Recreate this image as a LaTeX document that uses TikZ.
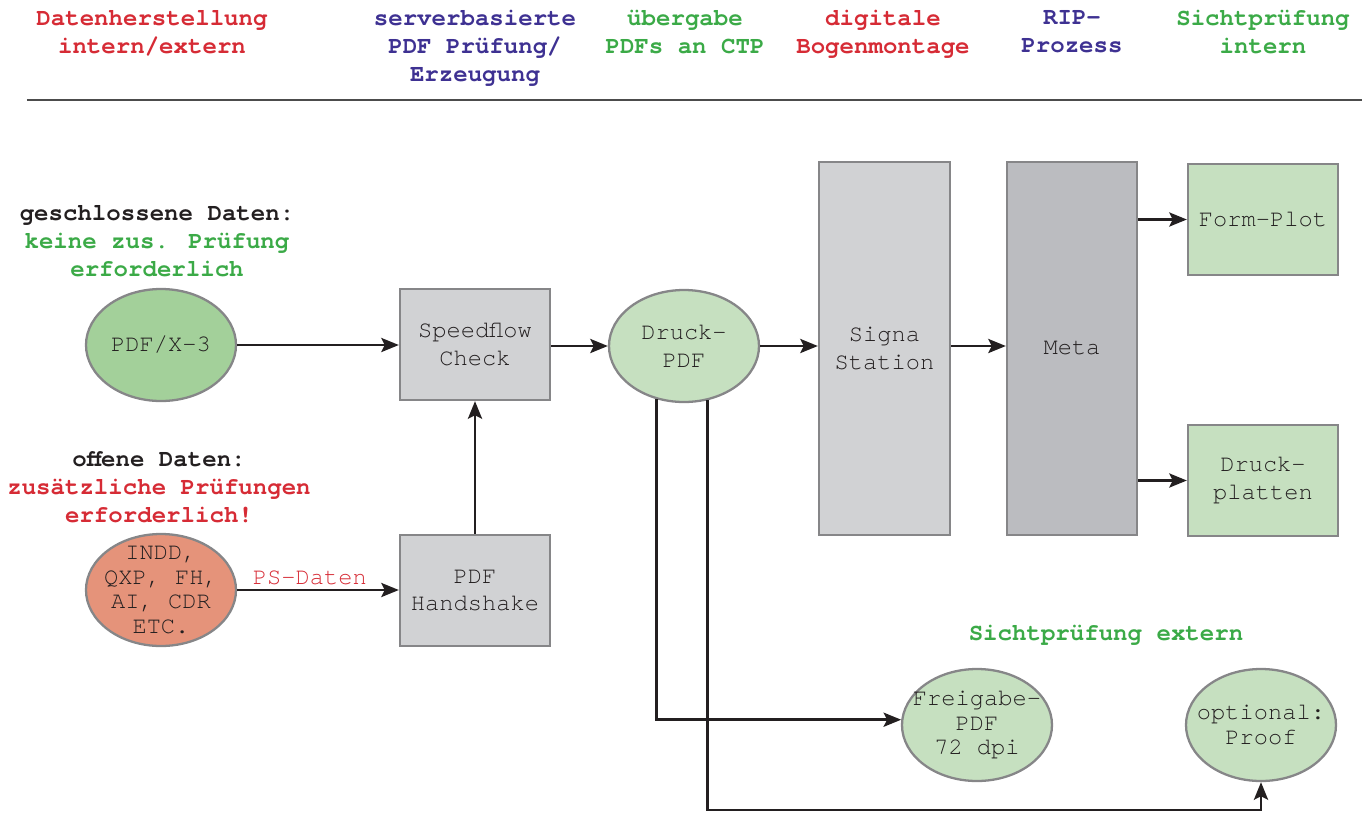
\documentclass[tikz,border=0pt]{standalone}
\usepackage{fontspec}
\setmainfont{TeX Gyre Cursor}
\usetikzlibrary{shapes.geometric,arrows.meta}
\definecolor{rot}{HTML}{D62B35}
\definecolor{lila}{HTML}{3E3192}
\definecolor{gruen}{HTML}{3BAA47}
\definecolor{ink}{HTML}{231F20}
\definecolor{rahmen}{HTML}{868688}
\definecolor{grau}{HTML}{D1D2D4}
\definecolor{dunkelgrau}{HTML}{BBBCC0}
\definecolor{hellgruen}{HTML}{C6E0C0}
\definecolor{pdfgruen}{HTML}{A3D09A}
\definecolor{lachs}{HTML}{E5937A}
\newcommand\knotenfont{\fontsize{13.5}{15.9}\selectfont}
\newcommand\engfont{\fontsize{13.5}{13.9}\selectfont}
\tikzset{
  kopf/.style     = { font=\fontsize{13.7}{15.9}\selectfont\bfseries, align=center, anchor=north, inner sep=0pt, text=ink },
  station/.style  = { draw=rahmen, line width=1.3pt, fill=grau, minimum width=3cm, minimum height=2.22cm, align=center, text=ink, font=\knotenfont },
  datei/.style    = { ellipse, draw=rahmen, line width=1.3pt, fill=hellgruen, minimum width=3cm, minimum height=2.24cm, inner xsep=-0.4cm, inner ysep=-0.4cm, align=center, text=ink, font=\knotenfont },
  eng/.style      = { font=\engfont },
  pfeil/.style    = { -{Stealth[length=10pt,width=8pt,inset=2pt]}, line width=1.6pt, draw=ink },
  ps/.style       = { above, pos=0.45, inner sep=2pt, text=rot, font=\knotenfont },
  trenner/.style  = { line width=1.1pt, draw=black!70 }
}
\begin{document}
\begin{tikzpicture}
  \useasboundingbox (0,0) rectangle (27.24,-16.24);

  % Draw headings
  \node[kopf, text=rot]   (h1) at (3.04,-0.2)  {Datenherstellung\\intern/extern};
  \node[kopf, text=lila]  (h2) at (9.5,-0.2)   {serverbasierte\\PDF Prüfung/\\Erzeugung};
  \node[kopf, text=gruen] (h3) at (13.7,-0.2)  {übergabe\\PDFs an CTP};
  \node[kopf, text=rot]   (h4) at (17.66,-0.2) {digitale\\Bogenmontage};
  \node[kopf, text=lila]  (h5) at (21.44,-0.2) {RIP-\\Prozess};
  \node[kopf, text=gruen] (h6) at (25.26,-0.2) {Sichtprüfung\\intern};
  \draw[trenner] (0.54,-2) -- (27.24,-2);

  % Draw notes
  \node[kopf] (geschlossen) at (3.14,-4.1) {geschlossene Daten:\\\textcolor{gruen}{keine zus. Prüfung}\\\textcolor{gruen}{erforderlich}};
  \node[kopf] (offen) at (3.18,-9.02) {offene Daten:\\\textcolor{rot}{zusätzliche Prüfungen}\\\textcolor{rot}{erforderlich!}};
  \node[kopf, text=gruen] (extern) at (22.12,-12.5) {Sichtprüfung extern};

  % Draw all stations
  \node[datei, fill=pdfgruen] (pdfx) at (3.22,-6.9) {PDF/X-3};
  \node[datei, fill=lachs, eng] (indd) at (3.22,-11.8) {INDD,\\QXP, FH,\\AI, CDR\\ETC.};
  \node[station] (speedflow) at (9.5,-6.89) {Speedflow\\Check};
  \node[station] (handshake) at (9.5,-11.81) {PDF\\Handshake};
  \node[datei] (druck) at (13.68,-6.92) {Druck-\\PDF};
  \node[station, minimum width=2.62cm, minimum height=7.46cm] (signa) at (17.69,-6.97) {Signa\\Station};
  \node[station, fill=dunkelgrau, minimum width=2.6cm, minimum height=7.46cm] (meta) at (21.44,-6.97) {Meta};
  \node[station, fill=hellgruen] (formplot) at (25.26,-4.39) {Form-Plot};
  \node[station, fill=hellgruen] (platten) at (25.26,-9.61) {Druck-\\platten};
  \node[datei, eng] (freigabe) at (19.54,-14.5) {Freigabe-\\PDF\\72 dpi};
  \node[datei, eng] (proof) at (25.22,-14.5) {optional:\\Proof};
  \coordinate (unten) at (25.22,-16.2);

  % Draw connections
  \draw[pfeil] (pdfx.east) -- (pdfx.east -| speedflow.west);
  \draw[pfeil] (speedflow.east |- druck.west) -- (druck.west);
  \draw[pfeil] (druck.east) -- (druck.east -| signa.west);
  \draw[pfeil] (signa.east |- druck.east) -- (meta.west |- druck.east);
  \draw[pfeil] (meta.east |- formplot) -- (formplot.west);
  \draw[pfeil] (meta.east |- platten) -- (platten.west);
  \draw[pfeil] (indd.east) -- node[ps] {PS-Daten} (indd.east -| handshake.west);
  \draw[pfeil] (handshake) -- (speedflow);
  \draw[pfeil] (druck.-117) |- (freigabe.176);
  \draw[pfeil] (druck.-67) |- (unten) -- (proof.south);
\end{tikzpicture}
\end{document}
